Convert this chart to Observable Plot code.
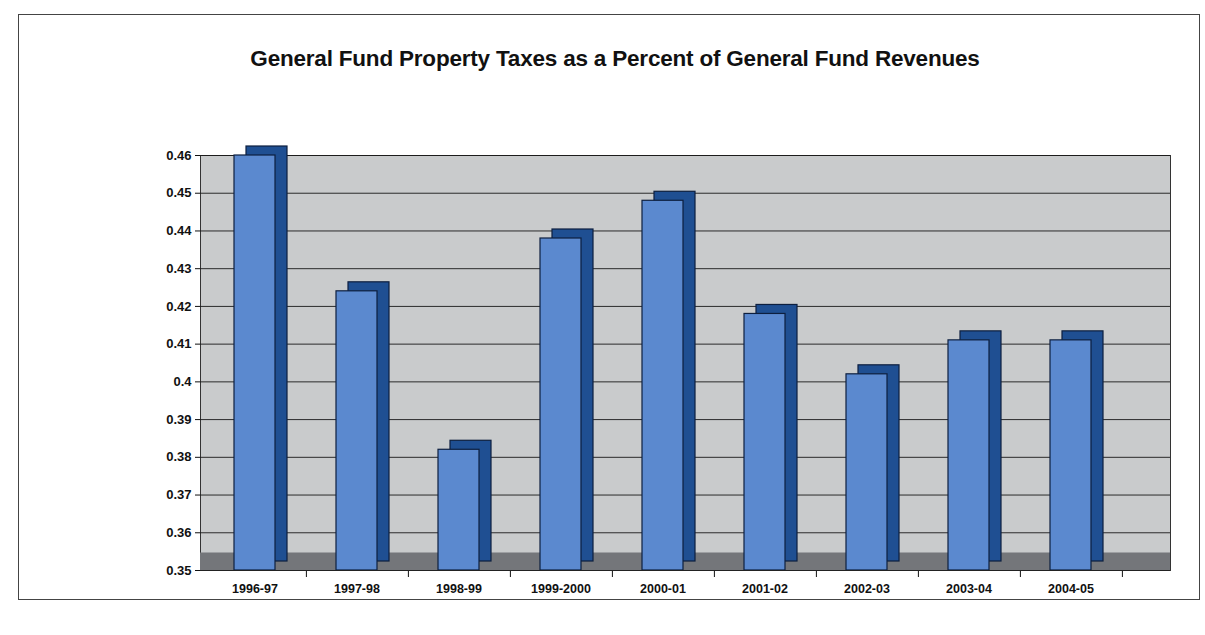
<!DOCTYPE html>
<html>
<head>
<meta charset="utf-8">
<script src="https://cdn.jsdelivr.net/npm/d3@7"></script>
<script src="https://cdn.jsdelivr.net/npm/@observablehq/plot@0.6"></script>
<style>
  html, body { margin: 0; padding: 0; background: #ffffff; }
  #frame { position: absolute; left: 18px; top: 14px; width: 1182px; height: 586px; border: 1px solid #444; box-sizing: border-box; }
  #title { position: absolute; left: 0; top: 46px; width: 1230px; text-align: center;
           font: bold 22.5px "Liberation Sans", Arial, sans-serif; color: #111; letter-spacing: -0.2px; }
  #chart { position: absolute; left: 0; top: 100px; }
</style>
</head>
<body>
<div id="frame"></div>
<div id="title">General Fund Property Taxes as a Percent of General Fund Revenues</div>
<div id="chart"></div>
<script>
const years = ["1996-97","1997-98","1998-99","1999-2000","2000-01","2001-02","2002-03","2003-04","2004-05"];
const shares = [0.460, 0.424, 0.382, 0.438, 0.448, 0.418, 0.402, 0.411, 0.411];
const yTicks = [0.35,0.36,0.37,0.38,0.39,0.40,0.41,0.42,0.43,0.44,0.45,0.46];

const data = years.map((y, i) => ({year: y, value: shares[i]}));
const fmt = d => String(+d.toFixed(2));

const chart = Plot.plot({
  width: 1205,
  height: 520,
  marginLeft: 200,
  marginRight: 35,
  marginTop: 55,
  marginBottom: 50,
  style: {fontFamily: "'Liberation Sans', Arial, sans-serif", fontSize: "12.5px", fontWeight: "bold", color: "#111", background: "transparent", overflow: "visible"},
  x: {domain: years, label: null, range: [200, 1125], paddingInner: 0.6, paddingOuter: 0.3},
  y: {domain: [0.35, 0.46], ticks: yTicks, tickFormat: fmt, label: null},
  marks: [
    Plot.frame({fill: "#c9cbcc", stroke: "#333", strokeWidth: 1}),
    Plot.gridY(yTicks, {stroke: "#1a1a1a", strokeOpacity: 0.9, strokeWidth: 1}),
    Plot.ruleY([0.35], {stroke: "#74767a", strokeWidth: 18, dy: -9}),
    Plot.barY(data, {x: "year", y1: 0.35, y2: "value", fill: "#1f4f92", stroke: "#0d1f3f", strokeWidth: 1.2, dx: 12, dy: -9}),
    Plot.barY(data, {x: "year", y1: 0.35, y2: "value", fill: "#5b89cf", stroke: "#0d1f3f", strokeWidth: 1.2}),
    Plot.axisY({ticks: yTicks, tickFormat: fmt, label: null, tickSize: 5, fontSize: 13}),
    Plot.axisX({label: null, tickSize: 7, tickFormat: () => "", dx: 51.4}),
    Plot.axisX({label: null, tickSize: 0, tickPadding: 14, fontSize: 12.5}),
    Plot.ruleY([0.35], {stroke: "#222"})
  ]
});
document.getElementById("chart").appendChild(chart);
</script>
</body>
</html>
